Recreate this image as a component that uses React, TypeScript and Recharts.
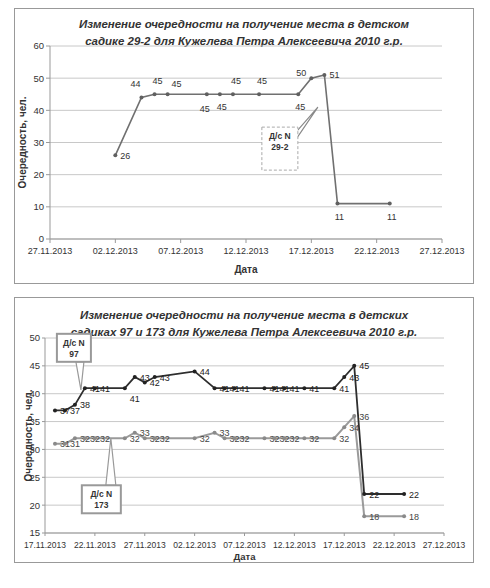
import { LineChart, Line, XAxis, YAxis, CartesianGrid, ReferenceDot } from 'recharts';

// chart 1: kindergarten 29-2
const dates292 = ['02.12.2013', '04.12.2013', '05.12.2013', '06.12.2013', '09.12.2013', '10.12.2013', '11.12.2013', '13.12.2013', '16.12.2013', '17.12.2013', '18.12.2013', '19.12.2013', '23.12.2013'];
const queue292 = [26, 44, 45, 45, 45, 45, 45, 45, 45, 50, 51, 11, 11];
const places292 = ['right', 'upLeft', 'up', 'upRight', 'downLeft', 'down', 'up', 'up', 'down', 'left', 'right', 'down', 'down'];
const xTicks1 = ['27.11.2013', '02.12.2013', '07.12.2013', '12.12.2013', '17.12.2013', '22.12.2013', '27.12.2013'];
const yTicks1 = [0, 10, 20, 30, 40, 50, 60];

// chart 2: kindergartens 97 and 173
const dates2 = ['18.11.2013', '19.11.2013', '20.11.2013', '21.11.2013', '22.11.2013', '25.11.2013', '26.11.2013', '27.11.2013', '28.11.2013', '02.12.2013', '04.12.2013', '05.12.2013', '06.12.2013', '09.12.2013', '10.12.2013', '11.12.2013', '13.12.2013', '16.12.2013', '17.12.2013', '18.12.2013', '19.12.2013', '23.12.2013'];
const queue97 = [37, 37, 38, 41, 41, 41, 43, 42, 43, 44, 41, 41, 41, 41, 41, 41, 41, 41, 43, 45, 22, 22];
const queue173 = [31, 31, 32, 32, 32, 32, 33, 32, 32, 32, 33, 32, 32, 32, 32, 32, 32, 32, 34, 36, 18, 18];
const places97 = dates2.map((_, i) => (i === 5 ? 'downRight' : 'right'));
const places173 = dates2.map(() => 'right');
const xTicks2 = ['17.11.2013', '22.11.2013', '27.11.2013', '02.12.2013', '07.12.2013', '12.12.2013', '17.12.2013', '22.12.2013', '27.12.2013'];
const yTicks2 = [15, 20, 25, 30, 35, 40, 45, 50];

const dayOf = (s: string) => {
  const [d, m, y] = s.split('.').map(Number);
  return Date.UTC(y, m - 1, d) / 86400000;
};

const data1 = dates292.map((d, i) => ({ day: dayOf(d), q: queue292[i] }));
const data2 = dates2.map((d, i) => ({ day: dayOf(d), q97: queue97[i], q173: queue173[i] }));

const FONT = '"Liberation Sans", Arial, sans-serif';

const offsets: Record<string, [number, number, 'start' | 'middle' | 'end']> = {
  right: [5, 3.5, 'start'],
  left: [-5, -2.5, 'end'],
  up: [3, -10, 'middle'],
  upLeft: [-6, -10.5, 'middle'],
  upRight: [9, -7, 'middle'],
  down: [2, 16, 'middle'],
  downLeft: [-2, 17.5, 'middle'],
  downRight: [5, 13.5, 'start'],
};

const makeDot = (color: string, textColor: string, key: string, places: string[]) => (props: any) => {
  const { cx, cy, index, payload } = props;
  const [dx, dy, anchor] = offsets[places[index]] || offsets.right;
  return (
    <g key={`dot-${key}-${index}`}>
      <circle cx={cx} cy={cy} r={2} fill={color} stroke="none" />
      <text x={cx + dx} y={cy + dy} textAnchor={anchor} fontSize={9} fill={textColor} fontFamily={FONT}>
        {payload[key]}
      </text>
    </g>
  );
};

const Callout = ({ cx, cy, box, base, lines, dashed }: any) => {
  const [x0, y0, x1, y1] = box;
  return (
    <g>
      <polygon
        points={`${cx + base[0]},${cy + base[1]} ${cx + base[2]},${cy + base[3]} ${cx},${cy}`}
        fill="#fff"
        stroke={dashed ? '#888' : '#999'}
        strokeWidth={1.2}
      />
      <rect
        x={cx + x0}
        y={cy + y0}
        width={x1 - x0}
        height={y1 - y0}
        fill="#fff"
        stroke={dashed ? '#aaa' : '#999'}
        strokeWidth={dashed ? 1 : 2}
        strokeDasharray={dashed ? '3 2' : undefined}
      />
      {lines.map((t: string, i: number) => (
        <text
          key={t}
          x={cx + (x0 + x1) / 2}
          y={cy + y0 + 12 + i * 11}
          textAnchor="middle"
          fontSize={8.5}
          fontWeight="bold"
          fill="#333"
          fontFamily={FONT}
        >
          {t}
        </text>
      ))}
    </g>
  );
};

const titleStyle: React.CSSProperties = {
  position: 'absolute',
  left: 0,
  width: '100%',
  textAlign: 'center',
  fontFamily: FONT,
  fontWeight: 'bold',
  fontStyle: 'italic',
  fontSize: 11.5,
  lineHeight: '17px',
  color: '#333',
};

const frameStyle: React.CSSProperties = {
  position: 'absolute',
  left: 6,
  width: 458,
  border: '1px solid #999',
  background: '#fff',
};

const tickStyle = { fill: '#333', fontSize: 9, fontFamily: FONT };
const axisTitle = { fill: '#333', fontSize: 10, fontWeight: 'bold', fontFamily: FONT };

export default function App() {
  return (
    <div style={{ position: 'relative', width: 474, height: 572 }}>
      <div style={{ ...frameStyle, top: 0, height: 274 }}>
        <div style={{ ...titleStyle, top: 7 }}>
          Изменение очередности на получение места в детском
          <br />
          садике 29-2 для Кужелева Петра Алексеевича 2010 г.р.
        </div>
        <LineChart width={458} height={274} data={data1} margin={{ top: 37, right: 31, bottom: 0, left: 6 }}>
          <CartesianGrid vertical={false} stroke="#c8c8c8" />
          <XAxis
            type="number"
            dataKey="day"
            domain={[dayOf(xTicks1[0]), dayOf(xTicks1[xTicks1.length - 1])]}
            ticks={xTicks1.map(dayOf)}
            tickFormatter={(v: number) => xTicks1[xTicks1.map(dayOf).indexOf(v)]}
            tick={tickStyle}
            stroke="#999"
            tickSize={4}
            tickMargin={5}
            height={44}
            interval={0}
            label={{ value: 'Дата', position: 'insideBottom', offset: 10, style: axisTitle }}
          />
          <YAxis
            domain={[0, 60]}
            ticks={yTicks1}
            tick={{ ...tickStyle, fontSize: 9.5 }}
            stroke="#999"
            tickSize={4}
            width={29}
            label={{ value: 'Очередность, чел.', angle: -90, position: 'center', dx: -13, style: axisTitle }}
          />
          <Line
            dataKey="q"
            stroke="#707070"
            strokeWidth={1.6}
            dot={makeDot('#606060', '#333', 'q', places292)}
            isAnimationActive={false}
          />
          <ReferenceDot
            x={dayOf('17.12.2013') + 0.5}
            y={41}
            shape={(p: any) => (
              <Callout cx={p.cx} cy={p.cy} box={[-56, 20, -20, 63]} base={[-21, 24, -21, 31]} lines={['Д/с N', '29-2']} dashed />
            )}
          />
        </LineChart>
      </div>

      <div style={{ ...frameStyle, top: 289, height: 264 }}>
        <div style={{ ...titleStyle, top: 9 }}>
          Изменение очередности на получение места в детских
          <br />
          садиках 97 и 173 для Кужелева Петра Алексеевича 2010 г.р.
        </div>
        <LineChart width={458} height={264} data={data2} margin={{ top: 40, right: 29, bottom: 0, left: 6 }}>
          <CartesianGrid vertical={false} stroke="#c8c8c8" />
          <XAxis
            type="number"
            dataKey="day"
            domain={[dayOf(xTicks2[0]), dayOf(xTicks2[xTicks2.length - 1])]}
            ticks={xTicks2.map(dayOf)}
            tickFormatter={(v: number) => xTicks2[xTicks2.map(dayOf).indexOf(v)]}
            tick={{ ...tickStyle, fontSize: 8.5 }}
            stroke="#999"
            tickSize={3}
            tickMargin={6}
            height={29}
            interval={0}
            label={{ value: 'Дата', position: 'insideBottom', offset: 2, style: { ...axisTitle, fontSize: 9.5 } }}
          />
          <YAxis
            domain={[15, 50]}
            ticks={yTicks2}
            tick={{ ...tickStyle, fontSize: 9.5 }}
            stroke="#999"
            tickSize={3}
            width={24}
            label={{ value: 'Очередность, чел.', angle: -90, position: 'center', dx: -5, style: axisTitle }}
          />
          <Line
            dataKey="q173"
            stroke="#9a9a9a"
            strokeWidth={2}
            dot={makeDot('#8a8a8a', '#444', 'q173', places173)}
            isAnimationActive={false}
          />
          <Line
            dataKey="q97"
            stroke="#2e2e2e"
            strokeWidth={1.8}
            dot={makeDot('#222', '#222', 'q97', places97)}
            isAnimationActive={false}
          />
          <ReferenceDot
            x={dayOf('17.11.2013') + 3.6}
            y={40.7}
            shape={(p: any) => (
              <Callout cx={p.cx} cy={p.cy} box={[-24, -56, 10, -28]} base={[-5, -28, 3, -28]} lines={['Д/с N', '97']} />
            )}
          />
          <ReferenceDot
            x={dayOf('17.11.2013') + 6.6}
            y={32}
            shape={(p: any) => (
              <Callout cx={p.cx} cy={p.cy} box={[-29, 47, 10, 75]} base={[-5, 47, 5, 47]} lines={['Д/с N', '173']} />
            )}
          />
        </LineChart>
      </div>
    </div>
  );
}
